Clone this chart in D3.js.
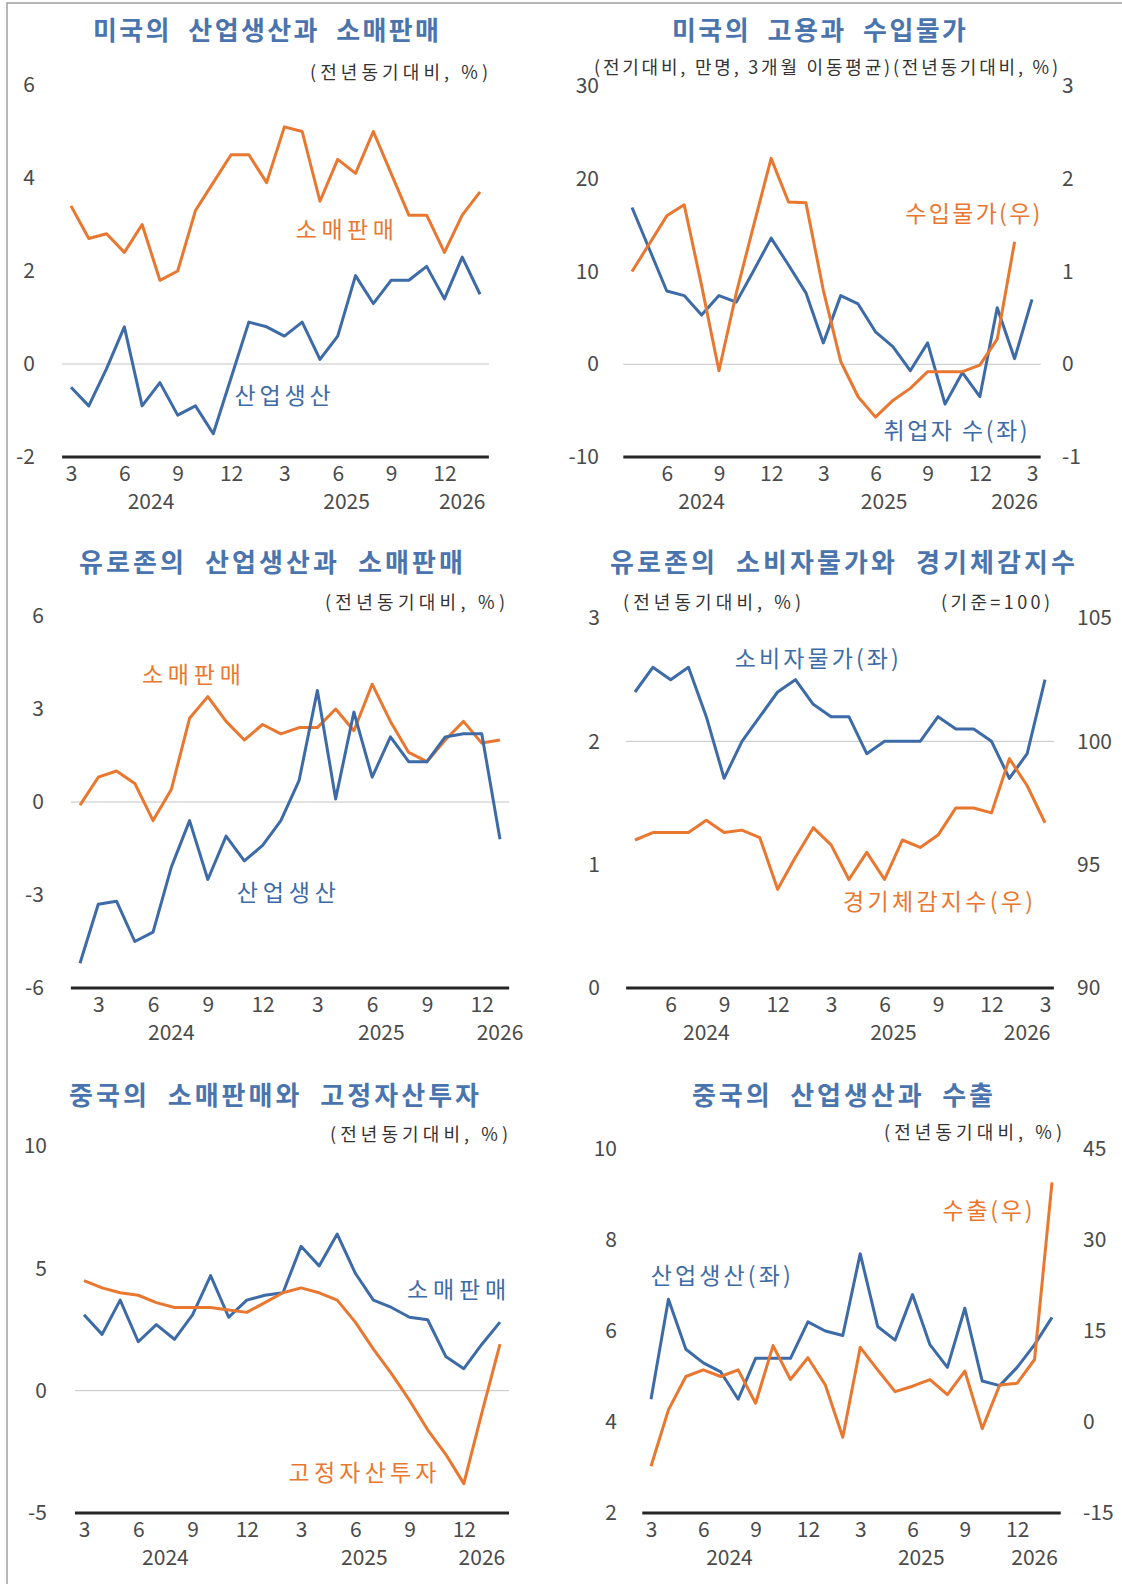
<!DOCTYPE html>
<html>
<head>
<meta charset="utf-8">
<script src="https://cdn.jsdelivr.net/npm/d3@7"></script>
<style>
  body { margin: 0; background: #fff; }
  svg { display: block; }
  text { font-family: "Noto Sans CJK KR", "Noto Sans", sans-serif; }
</style>
</head>
<body>
<svg id="chart" width="1122" height="1584"></svg>
<script>
"use strict";

// ---- categories (months) ----
const monthsMar24 = ["2024-03","2024-04","2024-05","2024-06","2024-07","2024-08","2024-09","2024-10","2024-11","2024-12",
  "2025-01","2025-02","2025-03","2025-04","2025-05","2025-06","2025-07","2025-08","2025-09","2025-10","2025-11","2025-12",
  "2026-01","2026-02"];
const monthsApr24 = ["2024-04","2024-05","2024-06","2024-07","2024-08","2024-09","2024-10","2024-11","2024-12",
  "2025-01","2025-02","2025-03","2025-04","2025-05","2025-06","2025-07","2025-08","2025-09","2025-10","2025-11","2025-12",
  "2026-01","2026-02","2026-03"];
const monthsFeb24 = ["2024-02","2024-03","2024-04","2024-05","2024-06","2024-07","2024-08","2024-09","2024-10","2024-11","2024-12",
  "2025-01","2025-02","2025-03","2025-04","2025-05","2025-06","2025-07","2025-08","2025-09","2025-10","2025-11","2025-12",
  "2026-01"];

// ---- series values ----
// 미국 (전년동기대비, %)
const usRetail  = [3.4, 2.7, 2.8, 2.4, 3.0, 1.8, 2.0, 3.3, 3.9, 4.5, 4.5, 3.9, 5.1, 5.0, 3.5, 4.4, 4.1, 5.0, 4.1, 3.2, 3.2, 2.4, 3.2, 3.7];
const usIndProd = [-0.5, -0.9, -0.1, 0.8, -0.9, -0.4, -1.1, -0.9, -1.5, -0.3, 0.9, 0.8, 0.6, 0.9, 0.1, 0.6, 1.9, 1.3, 1.8, 1.8, 2.1, 1.4, 2.3, 1.5];
// 미국 취업자 수 (만명, 3개월 이동평균) / 수입물가 (%)
const usJobs    = [16.9, 12.4, 7.9, 7.4, 5.3, 7.4, 6.7, 10.1, 13.6, 10.7, 7.7, 2.3, 7.4, 6.5, 3.5, 1.9, -0.7, 2.3, -4.3, -0.9, -3.5, 6.1, 0.6, 7.0];
const usImport  = [1.0, 1.3, 1.6, 1.72, 0.85, -0.07, 0.77, 1.5, 2.22, 1.75, 1.74, 0.8, 0.03, -0.35, -0.57, -0.39, -0.26, -0.08, -0.08, -0.08, -0.01, 0.27, 1.32, null];
// 유로존
const ezRetail  = [-0.1, 0.8, 1.0, 0.6, -0.6, 0.4, 2.7, 3.4, 2.6, 2.0, 2.5, 2.2, 2.4, 2.4, 3.0, 2.3, 3.8, 2.6, 1.6, 1.3, 2.0, 2.6, 1.9, 2.0];
const ezIndProd = [-5.2, -3.3, -3.2, -4.5, -4.2, -2.1, -0.6, -2.5, -1.1, -1.9, -1.4, -0.6, 0.7, 3.6, 0.1, 2.9, 0.8, 2.1, 1.3, 1.3, 2.1, 2.2, 2.2, -1.2];
const ezCpi     = [2.4, 2.6, 2.5, 2.6, 2.2, 1.7, 2.0, 2.2, 2.4, 2.5, 2.3, 2.2, 2.2, 1.9, 2.0, 2.0, 2.0, 2.2, 2.1, 2.1, 2.0, 1.7, 1.9, 2.5];
const ezEsi     = [96.0, 96.3, 96.3, 96.3, 96.8, 96.3, 96.4, 96.1, 94.0, 95.3, 96.5, 95.8, 94.4, 95.5, 94.4, 96.0, 95.7, 96.2, 97.3, 97.3, 97.1, 99.3, 98.2, 96.7];
// 중국
const cnRetail  = [3.1, 2.3, 3.7, 2.0, 2.7, 2.1, 3.1, 4.7, 3.0, 3.7, 3.9, 4.0, 5.9, 5.1, 6.4, 4.8, 3.7, 3.4, 3.0, 2.9, 1.4, 0.9, 1.9, 2.8];
const cnFai     = [4.5, 4.2, 4.0, 3.9, 3.6, 3.4, 3.4, 3.4, 3.3, 3.2, 3.6, 4.0, 4.2, 4.0, 3.7, 2.8, 1.7, 0.7, -0.4, -1.6, -2.6, -3.8, -0.9, 1.9];
const cnIndProd = [4.5, 6.7, 5.6, 5.3, 5.1, 4.5, 5.4, 5.4, 5.4, 6.2, 6.0, 5.9, 7.7, 6.1, 5.8, 6.8, 5.7, 5.2, 6.5, 4.9, 4.8, 5.2, 5.7, 6.3];
const cnExport  = [-7.3, 2.0, 7.5, 8.6, 7.5, 8.6, 3.1, 12.6, 7.0, 10.6, 6.1, -2.5, 12.3, 8.6, 5.0, 5.9, 7.0, 4.5, 8.4, -1.1, 6.1, 6.4, 10.3, 39.5];

const BLUE = "#3d6ba7";
const ORANGE = "#e9772f";
const TITLE = "#4a74ae";
const INK = "#4a4a4a";

const panels = [
  {
    title: "미국의  산업생산과  소매판매", titleSpan: [93, 439], titleY: 28,
    units: [{ text: "(전년동기대비, %)", span: [310, 488], y: 71 }],
    months: monthsMar24, xRange: [71, 480], yRange: [457, 85],
    left: { domain: [-2, 6], ticks: [-2, 0, 2, 4, 6], x: 35 },
    grid: 0,
    series: [{ values: usRetail, color: ORANGE }, { values: usIndProd, color: BLUE }],
    labels: [{ text: "소매판매", color: ORANGE, at: [15.4, 2.92], w: 98 },
             { text: "산업생산", color: BLUE, at: [11.9, -0.65], w: 96 }]
  },
  {
    title: "미국의  고용과  수입물가", titleSpan: [672, 966], titleY: 28,
    units: [{ text: "(전기대비, 만명, 3개월 이동평균)(전년동기대비, %)", span: [594, 1058], y: 66 }],
    months: monthsApr24, xRange: [632, 1032], yRange: [457, 86],
    left: { domain: [-10, 30], ticks: [-10, 0, 10, 20, 30], x: 599 },
    right: { domain: [-1, 3], ticks: [-1, 0, 1, 2, 3], x: 1062 },
    grid: 0,
    series: [{ values: usJobs, color: BLUE }, { values: usImport, color: ORANGE, axis: "right" }],
    labels: [{ text: "수입물가(우)", color: ORANGE, at: [19.6, 16.4], w: 135 },
             { text: "취업자 수(좌)", color: BLUE, at: [18.6, -7.0], w: 144 }]
  },
  {
    title: "유로존의  산업생산과  소매판매", titleSpan: [79, 463], titleY: 560,
    units: [{ text: "(전년동기대비, %)", span: [325, 505], y: 601 }],
    months: monthsFeb24, xRange: [80, 500], yRange: [988, 616],
    left: { domain: [-6, 6], ticks: [-6, -3, 0, 3, 6], x: 44 },
    grid: 0,
    series: [{ values: ezRetail, color: ORANGE }, { values: ezIndProd, color: BLUE }],
    labels: [{ text: "소매판매", color: ORANGE, at: [6.1, 4.15], w: 99 },
             { text: "산업생산", color: BLUE, at: [11.3, -2.86], w: 99 }]
  },
  {
    title: "유로존의  소비자물가와  경기체감지수", titleSpan: [610, 1075], titleY: 560,
    units: [{ text: "(전년동기대비, %)", span: [623, 801], y: 601 },
            { text: "(기준=100)", span: [941, 1050], y: 601 }],
    months: monthsApr24, xRange: [635, 1045], yRange: [988, 618],
    left: { domain: [0, 3], ticks: [0, 1, 2, 3], x: 600 },
    right: { domain: [90, 105], ticks: [90, 95, 100, 105], x: 1077 },
    grid: 2,
    series: [{ values: ezCpi, color: BLUE }, { values: ezEsi, color: ORANGE, axis: "right" }],
    labels: [{ text: "소비자물가(좌)", color: BLUE, at: [10.2, 2.68], w: 164 },
             { text: "경기체감지수(우)", color: ORANGE, at: [17.0, 0.71], w: 190 }]
  },
  {
    title: "중국의  소매판매와  고정자산투자", titleSpan: [69, 479], titleY: 1093,
    units: [{ text: "(전년동기대비, %)", span: [330, 508], y: 1133 }],
    months: monthsMar24, xRange: [84, 500], yRange: [1513, 1146],
    left: { domain: [-5, 10], ticks: [-5, 0, 5, 10], x: 47 },
    grid: 0,
    series: [{ values: cnRetail, color: BLUE }, { values: cnFai, color: ORANGE }],
    labels: [{ text: "소매판매", color: BLUE, at: [20.6, 4.2], w: 99 },
             { text: "고정자산투자", color: ORANGE, at: [15.4, -3.27], w: 148 }]
  },
  {
    title: "중국의  산업생산과  수출", titleSpan: [692, 993], titleY: 1093,
    units: [{ text: "(전년동기대비, %)", span: [884, 1062], y: 1131 }],
    months: monthsMar24, xRange: [651, 1052], yRange: [1513, 1149],
    left: { domain: [2, 10], ticks: [2, 4, 6, 8, 10], x: 617 },
    right: { domain: [-15, 45], ticks: [-15, 0, 15, 30, 45], x: 1083 },
    grid: null,
    series: [{ values: cnIndProd, color: BLUE }, { values: cnExport, color: ORANGE, axis: "right" }],
    labels: [{ text: "수출(우)", color: ORANGE, at: [19.3, 8.68], w: 90 },
             { text: "산업생산(좌)", color: BLUE, at: [4.0, 7.25], w: 140 }]
  }
];

const svg = d3.select("#chart");

// outer frame (top and left edges only)
svg.append("path")
  .attr("d", "M7,1584V3H1122")
  .attr("fill", "none")
  .attr("stroke", "#a0a0a0")
  .attr("stroke-width", 1.5);

function fitText(g, text, span, y, size, color, weight) {
  g.append("text")
    .attr("x", span[0])
    .attr("y", y)
    .attr("dominant-baseline", "central")
    .attr("font-size", size)
    .attr("font-weight", weight || 400)
    .attr("fill", color)
    .attr("textLength", span[1] - span[0])
    .attr("lengthAdjust", "spacing")
    .style("white-space", "pre")
    .text(text);
}

function styleAxis(g) {
  g.select(".domain").remove();
  g.attr("font-family", null).attr("font-size", 21);
  g.selectAll("text").attr("fill", INK);
}

const plain = d => String(d);

function drawPanel(p) {
  const g = svg.append("g");
  const n = p.months.length;
  const x = d3.scaleLinear().domain([0, n - 1]).range(p.xRange);
  const yL = d3.scaleLinear().domain(p.left.domain).range(p.yRange);
  const yR = p.right ? d3.scaleLinear().domain(p.right.domain).range(p.yRange) : null;
  const base = p.yRange[0];

  // title and units
  fitText(g, p.title, p.titleSpan, p.titleY, 26, TITLE, 700);
  p.units.forEach(u => fitText(g, u.text, u.span, u.y, 18, "#333", 400));

  // y axes (labels only)
  g.append("g")
    .attr("transform", `translate(${p.left.x},0)`)
    .call(d3.axisLeft(yL).tickValues(p.left.ticks).tickFormat(plain).tickSize(0).tickPadding(0))
    .call(styleAxis);
  if (yR) {
    g.append("g")
      .attr("transform", `translate(${p.right.x},0)`)
      .call(d3.axisRight(yR).tickValues(p.right.ticks).tickFormat(plain).tickSize(0).tickPadding(0))
      .call(styleAxis);
  }

  // reference line
  if (p.grid !== null && p.grid !== undefined) {
    g.append("line")
      .attr("x1", x(-0.5)).attr("x2", x(n - 0.5))
      .attr("y1", yL(p.grid)).attr("y2", yL(p.grid))
      .attr("stroke", "#c4c4c4").attr("stroke-width", 1);
  }

  // month ticks
  const monthIdx = d3.range(n).filter(i => +p.months[i].slice(5) % 3 === 0);
  g.append("g")
    .attr("transform", `translate(0,${base})`)
    .call(d3.axisBottom(x).tickValues(monthIdx).tickSize(0).tickPadding(0)
      .tickFormat(i => String(+p.months[i].slice(5))))
    .call(styleAxis)
    .call(a => a.selectAll("text").attr("y", 16.5).attr("dy", "0.36em"));

  // year labels
  const years = d3.groups(d3.range(n), i => p.months[i].slice(0, 4));
  g.append("g")
    .selectAll("text")
    .data(years)
    .join("text")
    .attr("x", ([, idx]) => x(idx.length === 2 ? idx[0] : d3.mean(idx)))
    .attr("y", base + 44)
    .attr("dy", "0.36em")
    .attr("text-anchor", "middle")
    .attr("font-size", 21)
    .attr("fill", INK)
    .text(([yr]) => yr);

  // baseline
  g.append("line")
    .attr("x1", x(-0.5)).attr("x2", x(n - 0.5))
    .attr("y1", base).attr("y2", base)
    .attr("stroke", "#262626").attr("stroke-width", 3);

  // series
  p.series.forEach(s => {
    const y = s.axis === "right" ? yR : yL;
    const line = d3.line()
      .defined(d => d !== null)
      .x((d, i) => x(i))
      .y(d => y(d));
    g.append("path")
      .datum(s.values)
      .attr("d", line)
      .attr("fill", "none")
      .attr("stroke", s.color)
      .attr("stroke-width", 3)
      .attr("stroke-linejoin", "round");
  });

  // series labels
  p.labels.forEach(l => {
    const cx = x(l.at[0]);
    fitText(g, l.text, [cx - l.w / 2, cx + l.w / 2], yL(l.at[1]), 23, l.color, 400);
  });
}

panels.forEach(drawPanel);
</script>
</body>
</html>
